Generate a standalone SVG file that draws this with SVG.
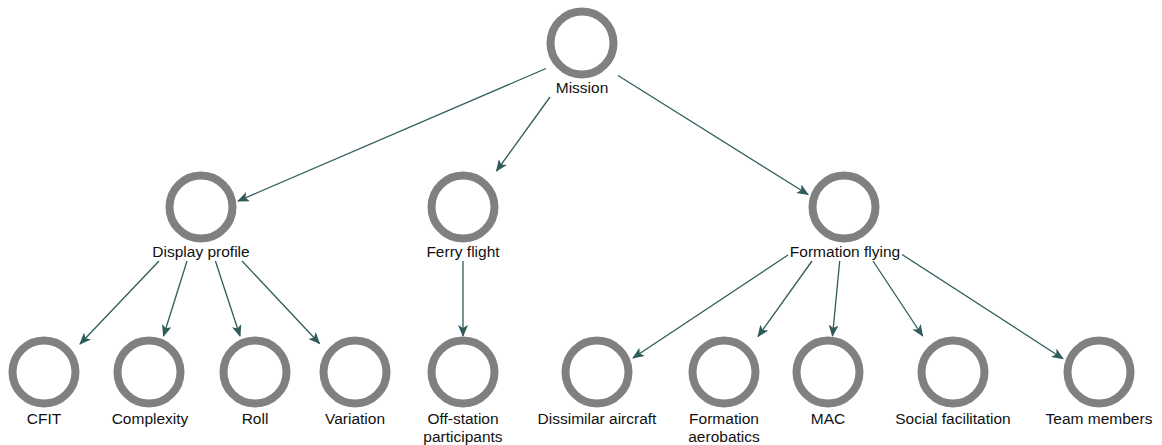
<svg xmlns="http://www.w3.org/2000/svg" width="1162" height="445" viewBox="0 0 1162 445">
<style>
.ring{fill:#ffffff;stroke:#808080;stroke-width:8}
.lbl{font-family:"Liberation Sans",Arial,sans-serif;font-size:15.5px;fill:#111111;text-anchor:middle}
.edge{stroke:#2f5b5b;stroke-width:1.3;fill:none;marker-end:url(#arr)}
</style>
<defs>
<marker id="arr" markerUnits="userSpaceOnUse" markerWidth="12" markerHeight="10" viewBox="0 0 12 10" refX="11" refY="5" orient="auto">
<path d="M0,0 L12,5 L0,10 L3,5 z" fill="#2f5b5b"/>
</marker>
</defs>
<rect width="1162" height="445" fill="#ffffff"/>
<g id="connectors">
<line class="edge" x1="546" y1="68.5" x2="238" y2="201"/>
<line class="edge" x1="550" y1="97" x2="496.5" y2="171"/>
<line class="edge" x1="618" y1="75.5" x2="808" y2="194.5"/>
<line class="edge" x1="159" y1="261" x2="80" y2="344"/>
<line class="edge" x1="187" y1="261" x2="163.5" y2="336"/>
<line class="edge" x1="215.4" y1="261" x2="240" y2="336"/>
<line class="edge" x1="242" y1="261" x2="319.5" y2="343.5"/>
<line class="edge" x1="463" y1="261" x2="463" y2="336"/>
<line class="edge" x1="788" y1="255" x2="633" y2="358"/>
<line class="edge" x1="812" y1="261" x2="758" y2="336.5"/>
<line class="edge" x1="839.7" y1="261" x2="832.5" y2="336"/>
<line class="edge" x1="873" y1="261" x2="922.6" y2="336"/>
<line class="edge" x1="902" y1="254.5" x2="1063" y2="358.7"/>
</g>
<g id="mission"><circle class="ring" cx="582" cy="43" r="31.5"/><text class="lbl" x="582" y="93">Mission</text></g>
<g id="display-profile"><circle class="ring" cx="201" cy="207" r="31.5"/><text class="lbl" x="201" y="257">Display profile</text></g>
<g id="ferry-flight"><circle class="ring" cx="463" cy="207" r="31.5"/><text class="lbl" x="463" y="257">Ferry flight</text></g>
<g id="formation-flying"><circle class="ring" cx="844" cy="207" r="31.5"/><text class="lbl" x="845" y="257">Formation flying</text></g>
<g id="cfit"><circle class="ring" cx="44" cy="372" r="31.5"/><text class="lbl" x="44" y="424">CFIT</text></g>
<g id="complexity"><circle class="ring" cx="149" cy="372" r="31.5"/><text class="lbl" x="150" y="424">Complexity</text></g>
<g id="roll"><circle class="ring" cx="255" cy="372" r="31.5"/><text class="lbl" x="255" y="424">Roll</text></g>
<g id="variation"><circle class="ring" cx="355" cy="372" r="31.5"/><text class="lbl" x="355" y="424">Variation</text></g>
<g id="off-station-participants"><circle class="ring" cx="463" cy="372" r="31.5"/><text class="lbl" x="463" y="424">Off-station</text><text class="lbl" x="463" y="442">participants</text></g>
<g id="dissimilar-aircraft"><circle class="ring" cx="597" cy="372" r="31.5"/><text class="lbl" x="597" y="424">Dissimilar aircraft</text></g>
<g id="formation-aerobatics"><circle class="ring" cx="724" cy="372" r="31.5"/><text class="lbl" x="724" y="424">Formation</text><text class="lbl" x="724" y="442">aerobatics</text></g>
<g id="mac"><circle class="ring" cx="828" cy="372" r="31.5"/><text class="lbl" x="828" y="424">MAC</text></g>
<g id="social-facilitation"><circle class="ring" cx="953" cy="372" r="31.5"/><text class="lbl" x="953" y="424">Social facilitation</text></g>
<g id="team-members"><circle class="ring" cx="1099" cy="372" r="31.5"/><text class="lbl" x="1099" y="424">Team members</text></g>
</svg>
